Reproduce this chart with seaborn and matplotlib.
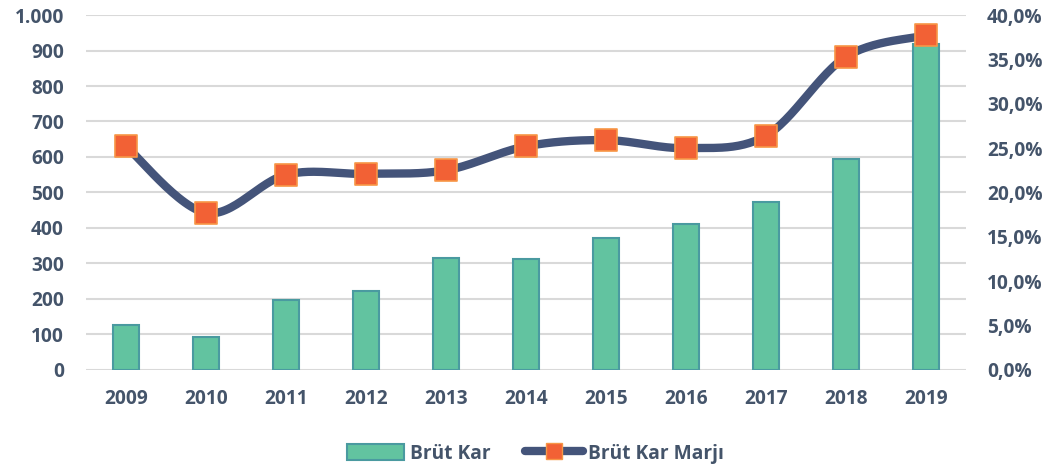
import numpy as np
import pandas as pd
import matplotlib
matplotlib.use('Agg')
import matplotlib.pyplot as plt
import seaborn as sns
from matplotlib.patches import Patch
from matplotlib.lines import Line2D
from matplotlib.ticker import FuncFormatter

# data
years = ['2009', '2010', '2011', '2012', '2013', '2014', '2015', '2016', '2017', '2018', '2019']
brut_kar = [127, 93, 197, 223, 316, 313, 372, 411, 473, 594, 918]
brut_kar_marji = [25.2, 17.7, 22.0, 22.1, 22.5, 25.2, 25.9, 25.0, 26.4, 35.3, 37.7]

TEXT = '#44546A'
BAR = '#62C3A0'
BAR_EDGE = '#4A9AA0'
LINE = '#44547A'
MARK = '#F26135'
MARK_EDGE = '#F79646'
GRID = '#D9D9D9'


def catmull_rom(x, y, steps=30):
    """Excel-like smoothed line through the given points."""
    px = np.concatenate([[x[0]], x, [x[-1]]])
    py = np.concatenate([[y[0]], y, [y[-1]]])
    out_x, out_y = [], []
    t = np.linspace(0, 1, steps)
    for i in range(1, len(px) - 2):
        p0, p1, p2, p3 = [np.array([px[j], py[j]]) for j in range(i - 1, i + 3)]
        c1 = p1 + (p2 - p0) / 6
        c2 = p2 - (p3 - p1) / 6
        pts = ((1 - t) ** 3)[:, None] * p1 + (3 * (1 - t) ** 2 * t)[:, None] * c1 \
            + (3 * (1 - t) * t ** 2)[:, None] * c2 + (t ** 3)[:, None] * p2
        out_x.extend(pts[:, 0])
        out_y.extend(pts[:, 1])
    return np.array(out_x), np.array(out_y)


df = pd.DataFrame({'Yil': years, 'Brüt Kar': brut_kar, 'Marj': brut_kar_marji})

sns.set_style('white')
plt.rcParams['font.family'] = ['Open Sans', 'DejaVu Sans']
FS = 13.8

fig = plt.figure(figsize=(10.5, 4.7), dpi=100)
ax = fig.add_axes([0.082, 0.213, 0.838, 0.755])

sns.barplot(data=df, x='Yil', y='Brüt Kar', color=BAR, width=0.33,
            edgecolor=BAR_EDGE, linewidth=1.5, saturation=1, ax=ax, zorder=2)
ax.set_ylim(0, 1000)
ax.set_yticks(np.arange(0, 1001, 100))
ax.yaxis.set_major_formatter(FuncFormatter(lambda v, p: f'{int(v):,}'.replace(',', '.')))
ax.set_xlim(-0.5, len(years) - 0.5)
ax.grid(axis='y', color=GRID, linewidth=1.5, zorder=0)
ax.set_axisbelow(True)
ax.set_xlabel('')
ax.set_ylabel('')
for s in ax.spines.values():
    s.set_visible(False)
ax.tick_params(axis='both', length=0, labelsize=FS, labelcolor=TEXT)
ax.tick_params(axis='y', pad=16)
ax.tick_params(axis='x', pad=14)
for lab in ax.get_xticklabels() + ax.get_yticklabels():
    lab.set_fontweight('bold')

ax2 = ax.twinx()
xs = np.arange(len(years))
sx, sy = catmull_rom(xs.astype(float), np.array(brut_kar_marji))
ax2.plot(sx, sy, color=LINE, linewidth=6, solid_capstyle='round', zorder=3)
sns.scatterplot(x=xs, y=brut_kar_marji, marker='s', s=230, color=MARK,
                edgecolor=MARK_EDGE, linewidth=1.2, ax=ax2, zorder=4)
ax2.set_ylim(0, 40)
ax2.set_yticks(np.arange(0, 41, 5))
ax2.yaxis.set_major_formatter(FuncFormatter(lambda v, p: f'{v:.1f}%'.replace('.', ',')))
ax2.set_xlim(-0.5, len(years) - 0.5)
for s in ax2.spines.values():
    s.set_visible(False)
ax2.tick_params(axis='y', length=0, labelsize=FS, labelcolor=TEXT, pad=15)
for lab in ax2.get_yticklabels():
    lab.set_fontweight('bold')

handles = [
    Patch(facecolor=BAR, edgecolor=BAR_EDGE, linewidth=1.5, label='Brüt Kar'),
    Line2D([0], [0], color=LINE, linewidth=6, marker='s', markersize=12,
           markerfacecolor=MARK, markeredgecolor=MARK_EDGE, solid_capstyle='round',
           label='Brüt Kar Marjı'),
]
leg = fig.legend(handles=handles, loc='center', bbox_to_anchor=(0.51, 0.035), ncol=2,
                 frameon=False, handlelength=3.0, handleheight=0.9, columnspacing=1.8,
                 handletextpad=0.3, prop={'size': FS, 'weight': 'bold'})
for t in leg.get_texts():
    t.set_color(TEXT)

fig.savefig('out.png', dpi=100)
